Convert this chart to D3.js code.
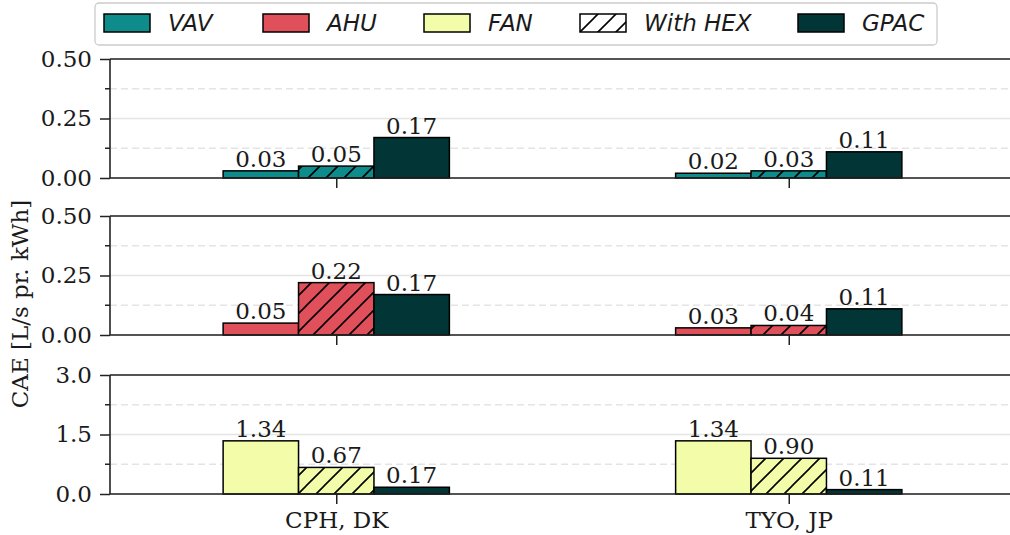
<!DOCTYPE html>
<html><head><meta charset="utf-8">
<script src="https://cdn.jsdelivr.net/npm/d3@7"></script>
<style>body{margin:0;background:#fff}svg{display:block}</style>
</head><body><svg id="c" width="1010" height="535"></svg>
<script>
const categories = ["CPH, DK", "TYO, JP"];
const systems = ["VAV", "AHU", "FAN"];
const baseValues = [[0.03, 0.02], [0.05, 0.03], [1.34, 1.34]];
const hexValues = [[0.05, 0.03], [0.22, 0.04], [0.67, 0.90]];
const gpacValues = [0.17, 0.11];
const yMaxes = [0.5, 0.5, 3.0];
const yTickVals = [[0, 0.25, 0.5], [0, 0.25, 0.5], [0, 1.5, 3.0]];
const yMinorVals = [[0.125, 0.375], [0.125, 0.375], [0.75, 2.25]];
const yTickFormats = [".2f", ".2f", ".1f"];
const legendLabels = ["VAV", "AHU", "FAN", "With HEX", "GPAC"];
const colors = {VAV: "#0e8b8b", AHU: "#e0505b", FAN: "#f3fca8", GPAC: "#023535"};

const FS = 23;
const svg = d3.select("#c");
const defs = svg.append("defs");
const pat = defs.append("pattern").attr("id", "hatch").attr("patternUnits", "userSpaceOnUse")
  .attr("width", 18).attr("height", 18);
pat.append("path").attr("d", "M0,18 L18,0 M-4,4 L4,-4 M14,22 L22,14")
  .attr("stroke", "#000").attr("stroke-width", 1.6);

const x = d3.scaleLinear().domain([-0.5, 1.5]).range([110, 1015]);
const bw = 1 / 6;
const panelTops = [59, 216, 375];
const panelH = 119;
const font = "DejaVu Serif";

systems.forEach((sys, p) => {
  const y = d3.scaleLinear().domain([0, yMaxes[p]]).range([panelTops[p] + panelH, panelTops[p]]);
  const g = svg.append("g");
  g.selectAll(".gmaj").data(yTickVals[p]).join("line")
    .attr("x1", 110).attr("x2", 1010).attr("y1", d => y(d)).attr("y2", d => y(d))
    .attr("stroke", "#e4e4e4").attr("stroke-width", 1.3);
  g.selectAll(".gmin").data(yMinorVals[p]).join("line")
    .attr("x1", 110).attr("x2", 1010).attr("y1", d => y(d)).attr("y2", d => y(d))
    .attr("stroke", "#e4e4e4").attr("stroke-width", 1.3).attr("stroke-dasharray", "7,4");
  const bars = [];
  categories.forEach((c, i) => {
    bars.push({xc: i - bw, v: baseValues[p][i], fill: colors[sys], hatch: false});
    bars.push({xc: i, v: hexValues[p][i], fill: colors[sys], hatch: true});
    bars.push({xc: i + bw, v: gpacValues[i], fill: colors.GPAC, hatch: false});
  });
  bars.forEach(b => {
    const x0 = x(b.xc - bw / 2), w = x(b.xc + bw / 2) - x0;
    g.append("rect").attr("x", x0).attr("y", y(b.v)).attr("width", w).attr("height", y(0) - y(b.v))
      .attr("fill", b.fill);
    if (b.hatch) g.append("rect").attr("x", x0).attr("y", y(b.v)).attr("width", w).attr("height", y(0) - y(b.v))
      .attr("fill", "url(#hatch)");
    g.append("rect").attr("x", x0).attr("y", y(b.v)).attr("width", w).attr("height", y(0) - y(b.v))
      .attr("fill", "none").attr("stroke", "#000").attr("stroke-width", 1.5);
    g.append("text").attr("x", x(b.xc)).attr("y", y(b.v) - 4).attr("text-anchor", "middle")
      .attr("font-family", font).attr("font-size", FS).attr("fill", "#1a1a1a").text(d3.format(".2f")(b.v));
  });
  const ya = d3.axisLeft(y).tickValues(yTickVals[p]).tickFormat(d3.format(yTickFormats[p])).tickSize(10).tickPadding(8);
  const yg = g.append("g").attr("transform", "translate(110,0)").call(ya);
  yg.select(".domain").remove();
  yg.selectAll("line").attr("stroke", "#222").attr("stroke-width", 1.5);
  yg.selectAll("text").attr("font-family", font).attr("font-size", FS).attr("fill", "#1a1a1a");
  g.selectAll(".minor").data(yMinorVals[p]).join("line")
    .attr("x1", 105).attr("x2", 110).attr("y1", d => y(d)).attr("y2", d => y(d))
    .attr("stroke", "#222").attr("stroke-width", 1.5);
  g.append("line").attr("x1", 110).attr("x2", 110).attr("y1", y(yMaxes[p])).attr("y2", y(0)).attr("stroke", "#222").attr("stroke-width", 1.6);
  g.append("line").attr("x1", 110).attr("x2", 1010).attr("y1", y(yMaxes[p])).attr("y2", y(yMaxes[p])).attr("stroke", "#222").attr("stroke-width", 1.6);
  g.append("line").attr("x1", 110).attr("x2", 1010).attr("y1", y(0)).attr("y2", y(0)).attr("stroke", "#222").attr("stroke-width", 1.6);
  const xa = d3.axisBottom(x).tickValues(d3.range(categories.length)).tickSize(10).tickPadding(8)
    .tickFormat(i => p === systems.length - 1 ? categories[i] : "");
  const xg = g.append("g").attr("transform", `translate(0,${y(0)})`).call(xa);
  xg.select(".domain").remove();
  xg.selectAll("line").attr("stroke", "#222").attr("stroke-width", 1.5);
  xg.selectAll("text").attr("font-family", font).attr("font-size", FS).attr("fill", "#1a1a1a");
});

svg.append("text").attr("transform", "translate(28,304) rotate(-90)").attr("text-anchor", "middle")
  .attr("font-family", font).attr("font-size", FS).attr("fill", "#1a1a1a").text("CAE [L/s pr. kWh]");

const lg = svg.append("g");
lg.append("rect").attr("x", 95).attr("y", 3).attr("width", 842).attr("height", 42).attr("rx", 4)
  .attr("fill", "#fff").attr("stroke", "#cccccc").attr("stroke-width", 1.3);
const legendX = [104, 263, 424, 580, 798];
const legendFill = [colors.VAV, colors.AHU, colors.FAN, "#fff", colors.GPAC];
legendLabels.forEach((lab, i) => {
  lg.append("rect").attr("x", legendX[i]).attr("y", 14).attr("width", 46).attr("height", 18).attr("fill", legendFill[i]);
  if (lab === "With HEX") lg.append("rect").attr("x", legendX[i]).attr("y", 14).attr("width", 46).attr("height", 18).attr("fill", "url(#hatch)");
  lg.append("rect").attr("x", legendX[i]).attr("y", 14).attr("width", 46).attr("height", 18).attr("fill", "none")
    .attr("stroke", "#000").attr("stroke-width", 1.5);
  lg.append("text").attr("x", legendX[i] + 64).attr("y", 31).attr("font-family", "DejaVu Sans").attr("font-style", "italic")
    .attr("font-size", FS).attr("fill", "#1a1a1a").text(lab);
});
</script></body></html>
